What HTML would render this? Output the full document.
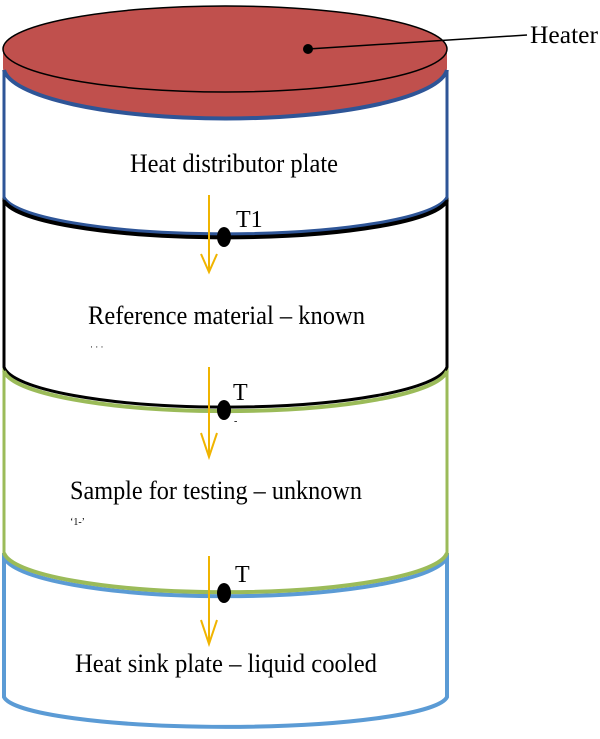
<!DOCTYPE html>
<html><head><style>body{margin:0;background:#fff}svg{display:block}</style></head><body>
<svg width="600" height="739" viewBox="0 0 600 739" xmlns="http://www.w3.org/2000/svg" font-family="Liberation Serif, serif">
<!-- bottom layer (heat sink) -->
<path d="M4 553 L4 697 A222 32 0 0 0 447 697 L447 553" fill="#fff" stroke="#5b9bd5" stroke-width="4"/>
<!-- sample layer -->
<path d="M4 367 L4 553 A222 42 0 0 0 447 553 L447 367" fill="#fff" stroke="#9bbb59" stroke-width="3"/>
<path d="M4 557 A222 42 0 0 0 447 557" fill="none" stroke="#5b9bd5" stroke-width="4"/>
<!-- reference layer -->
<path d="M4 197 L4 367 A222 43 0 0 0 447 367 L447 197" fill="#fff" stroke="#000" stroke-width="3"/>
<path d="M4 371 A222 43 0 0 0 447 371" fill="none" stroke="#9bbb59" stroke-width="4"/>
<path d="M4 553 A222 42 0 0 0 447 553" fill="none" stroke="#9bbb59" stroke-width="4"/>
<!-- heat distributor -->
<path d="M4 70 L4 197 A222 40 0 0 0 447 197 L447 70" fill="#fff" stroke="#2e5597" stroke-width="3"/>
<path d="M4 200 A222 40 0 0 0 447 200" fill="none" stroke="#000" stroke-width="4"/>
<path d="M4 196 A222 40 0 0 0 447 196" fill="none" stroke="#2e5597" stroke-width="2"/>
<!-- heater -->
<path d="M3 52 L3 68 A222 52 0 0 0 447 68 L447 52 Z" fill="#c0504d"/>
<path d="M4 70 A222 52 0 0 0 447 70" fill="none" stroke="#2e5597" stroke-width="4"/>
<ellipse cx="225" cy="49" rx="222" ry="43" fill="#c0504d" stroke="#000" stroke-width="1.5"/>
<line x1="308" y1="49" x2="527" y2="35" stroke="#000" stroke-width="1.5"/>
<circle cx="308" cy="49" r="5" fill="#000"/>
<text x="530" y="43" font-size="25" textLength="68" lengthAdjust="spacingAndGlyphs">Heater</text>
<!-- arrows -->
<g stroke="#f0b400" stroke-width="2" fill="none">
<line x1="209" y1="195" x2="209" y2="270"/><path d="M201 254 L209 272 L217 254"/>
<line x1="209" y1="367" x2="209" y2="455"/><path d="M201 433 L209 457 L217 433"/>
<line x1="209" y1="556" x2="209" y2="643"/><path d="M201 620 L209 644 L217 620"/>
</g>
<!-- dots -->
<ellipse cx="224" cy="237" rx="7" ry="10" fill="#000"/>
<ellipse cx="224" cy="410" rx="7" ry="10" fill="#000"/>
<ellipse cx="224" cy="593" rx="7" ry="10" fill="#000"/>
<g font-size="26">
<text x="236" y="227" font-size="24">T1</text>
<text x="233" y="400" font-size="24">T</text>
<text x="235" y="582" font-size="24">T</text>
<text x="130" y="172" textLength="208" lengthAdjust="spacingAndGlyphs">Heat distributor  plate</text>
<text x="88" y="324" textLength="277" lengthAdjust="spacingAndGlyphs">Reference  material  – known</text>
<text x="70" y="499" textLength="292" lengthAdjust="spacingAndGlyphs">Sample  for  testing  – unknown</text>
<text x="75" y="672" textLength="302" lengthAdjust="spacingAndGlyphs">Heat sink  plate – liquid  cooled</text>
</g>
<text x="70" y="525" font-size="10">‘1-’</text>
<text x="90" y="350" font-size="9">· · ·</text>
<text x="234" y="424" font-size="10">-</text>
</svg>
</body></html>
